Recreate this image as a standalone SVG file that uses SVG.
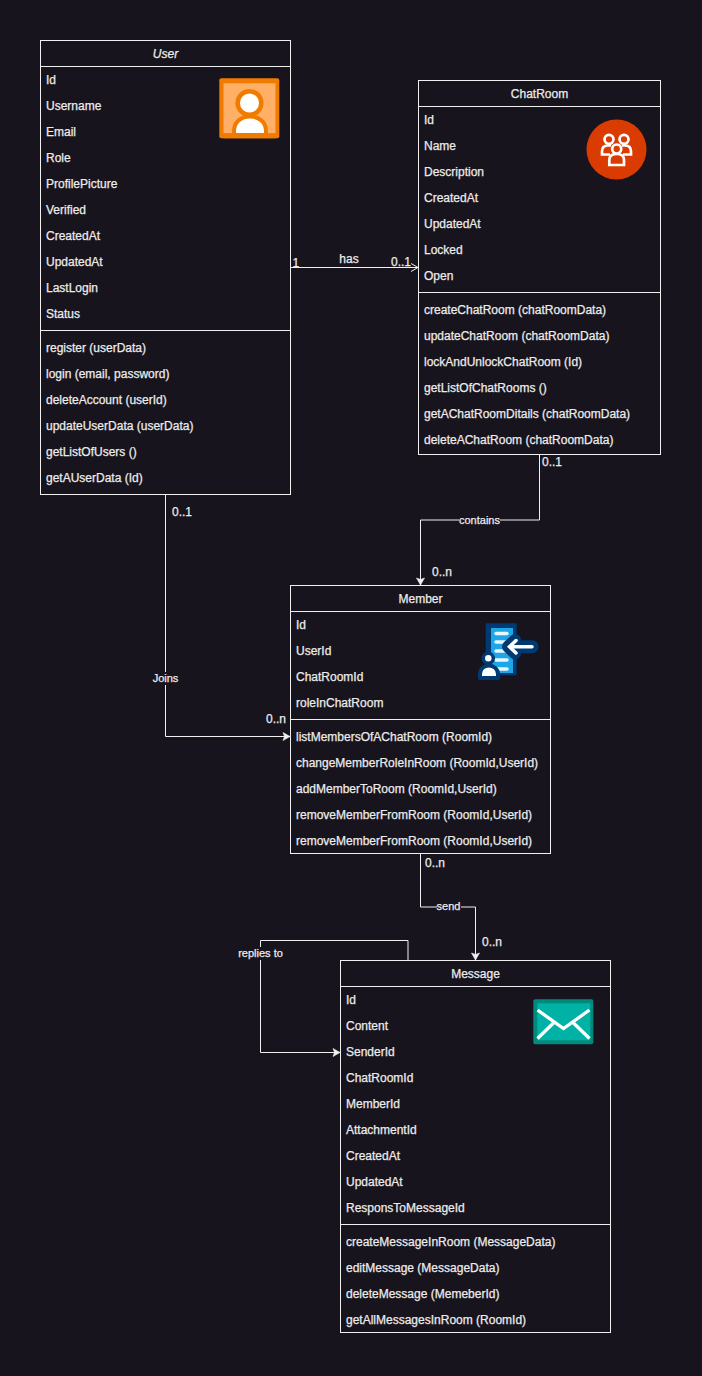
<svg xmlns="http://www.w3.org/2000/svg" width="702" height="1376" viewBox="0 0 702 1376">
<style>
text{font-family:"Liberation Sans",Arial,Helvetica,sans-serif;font-size:12px;fill:#ececec;stroke:#ececec;stroke-width:.25}
.box{fill:#18141d;stroke:#f0f0f0;stroke-width:1}
.sep{stroke:#f0f0f0;stroke-width:1;fill:none}
.t{text-anchor:middle}
.c{fill:none;stroke:#f0f0f0;stroke-width:1}
.s{font-size:11px;text-anchor:middle}
.lb{fill:#18141d}
</style>
<defs>
<marker id="open" markerWidth="10" markerHeight="10" refX="8" refY="5" orient="auto" markerUnits="userSpaceOnUse"><path d="M1 1 L8 5 L1 9" fill="none" stroke="#f0f0f0"/></marker>
<marker id="solid" markerWidth="10" markerHeight="10" refX="8" refY="5" orient="auto" markerUnits="userSpaceOnUse"><path d="M1 1 L8 5 L1 9 L2.500 5 Z" fill="#f0f0f0" stroke="#f0f0f0" stroke-width=".6"/></marker>
</defs>
<rect width="702" height="1376" fill="#18141d"/>
<g id="connectors">
<path class="c" d="M290.500 267.500H418" marker-end="url(#open)"/>
<path class="c" d="M539.500 454.500V520H420.500V585" marker-end="url(#solid)"/>
<path class="c" d="M165.500 494.500V736.500H290" marker-end="url(#solid)"/>
<path class="c" d="M420.500 853.500V907H475.500V960" marker-end="url(#solid)"/>
<path class="c" d="M408 960.500V940.500H260.500V1052.500H340" marker-end="url(#solid)"/>
<rect class="lb" x="459" y="514" width="41" height="12"/>
<rect class="lb" x="152" y="672" width="27" height="13"/>
<rect class="lb" x="437" y="900" width="24" height="13"/>
<rect class="lb" x="238" y="947" width="45" height="13"/>
<text x="292.500" y="267">1</text>
<text x="349" y="263" class="t">has</text>
<text x="391" y="266">0..1</text>
<text x="542" y="466">0..1</text>
<text x="479.500" y="524" class="s">contains</text>
<text x="432" y="576">0..n</text>
<text x="172" y="516">0..1</text>
<text x="165.500" y="682" class="s">Joins</text>
<text x="266" y="723">0..n</text>
<text x="425" y="867">0..n</text>
<text x="448.500" y="910" class="s">send</text>
<text x="482" y="946">0..n</text>
<text x="260.500" y="957" class="s">replies to</text>
</g>
<g id="user">
<rect class="box" x="40.500" y="40.500" width="250" height="454"/>
<path class="sep" d="M40.500 66.500H290.500M40.500 330.500H290.500"/>
<text x="165.500" y="58" class="t" font-style="italic">User</text>
<text x="46" y="84">Id</text><text x="46" y="110">Username</text><text x="46" y="136">Email</text><text x="46" y="162">Role</text><text x="46" y="188">ProfilePicture</text><text x="46" y="214">Verified</text><text x="46" y="240">CreatedAt</text><text x="46" y="266">UpdatedAt</text><text x="46" y="292">LastLogin</text><text x="46" y="318">Status</text>
<text x="46" y="352">register (userData)</text><text x="46" y="378">login (email, password)</text><text x="46" y="404">deleteAccount (userId)</text><text x="46" y="430">updateUserData (userData)</text><text x="46" y="456">getListOfUsers ()</text><text x="46" y="482">getAUserData (Id)</text>
<g id="user-icon">
<rect x="219.300" y="78.300" width="60" height="60" rx="2" fill="#ef7b00"/>
<rect x="223.500" y="83.300" width="52" height="50" fill="#ffb066"/>
<path d="M234 135V131C234 122 241 116.500 250 116.500C259 116.500 266 122 266 131V135Z" fill="#fff" stroke="#ef7b00" stroke-width="4"/>
<circle cx="249.500" cy="103" r="11.800" fill="#fff" stroke="#ef7b00" stroke-width="4.500"/>
<rect x="223.500" y="133.300" width="52" height="5" fill="#ef7b00"/>
</g>
</g>
<g id="chatroom">
<rect class="box" x="418.500" y="80.500" width="242" height="374"/>
<path class="sep" d="M418.500 106.500H660.500M418.500 292.500H660.500"/>
<text x="539.500" y="98" class="t">ChatRoom</text>
<text x="424" y="124">Id</text><text x="424" y="150">Name</text><text x="424" y="176">Description</text><text x="424" y="202">CreatedAt</text><text x="424" y="228">UpdatedAt</text><text x="424" y="254">Locked</text><text x="424" y="280">Open</text>
<text x="424" y="314">createChatRoom (chatRoomData)</text><text x="424" y="340">updateChatRoom (chatRoomData)</text><text x="424" y="366">lockAndUnlockChatRoom (Id)</text><text x="424" y="392">getListOfChatRooms ()</text><text x="424" y="418">getAChatRoomDitails (chatRoomData)</text><text x="424" y="444">deleteAChatRoom (chatRoomData)</text>
<g id="chatroom-icon">
<circle cx="616.500" cy="149.500" r="30" fill="#da3b01"/>
<g fill="none" stroke="#fff" stroke-width="2.700">
<circle cx="609" cy="139.300" r="4.500"/><circle cx="624" cy="139.300" r="4.500"/>
<path d="M610 154.500H602V151.500C602 147.500 604.500 145.500 608 145.500H611M622 145.500H625C628.500 145.500 631 147.500 631 151.500V154.500H623"/>
<circle cx="616.700" cy="149" r="4.500"/>
<path d="M609.300 165V160C609.300 156 612 154 616.700 154C621.300 154 624 156 624 160V165Z"/>
</g>
</g>
</g>
<g id="member">
<rect class="box" x="290.500" y="585.500" width="260" height="268"/>
<path class="sep" d="M290.500 611.500H550.500M290.500 719.500H550.500"/>
<text x="420.500" y="603" class="t">Member</text>
<text x="296" y="629">Id</text><text x="296" y="655">UserId</text><text x="296" y="681">ChatRoomId</text><text x="296" y="707">roleInChatRoom</text>
<text x="296" y="741">listMembersOfAChatRoom (RoomId)</text><text x="296" y="767">changeMemberRoleInRoom (RoomId,UserId)</text><text x="296" y="793">addMemberToRoom (RoomId,UserId)</text><text x="296" y="819">removeMemberFromRoom (RoomId,UserId)</text><text x="296" y="845">removeMemberFromRoom (RoomId,UserId)</text>
<g id="member-icon">
<rect x="485.700" y="623.300" width="31" height="52" rx="1" fill="#003a70"/>
<rect x="491" y="628" width="22" height="45" fill="#1ea7e8"/>
<path d="M496 633.500H507M496 642H507M496 651H507M496 660H507M496 669H507" stroke="#e8f6fd" stroke-width="3.500" stroke-linecap="round" fill="none"/>
<path d="M532 646.700H514" stroke="#003a70" stroke-width="13" stroke-linecap="round" fill="none"/>
<path d="M515 640L508 646.700L515 653.500" stroke="#003a70" stroke-width="12" stroke-linecap="round" stroke-linejoin="round" fill="none"/>
<path d="M532 646.700H511M516 640.500L509.500 646.700L516 653" fill="none" stroke="#fff" stroke-width="3.500" stroke-linecap="round"/>
<circle cx="488.300" cy="658.300" r="5" fill="#fff" stroke="#003a70" stroke-width="3.500"/>
<path d="M480 678V674C480 669 484 665.500 488.800 665.500C493.600 665.500 498 669 498 674V678Z" fill="#fff" stroke="#003a70" stroke-width="4" stroke-linejoin="round"/>
</g>
</g>
<g id="message">
<rect class="box" x="340.500" y="960.500" width="270" height="372"/>
<path class="sep" d="M340.500 986.500H610.500M340.500 1224.500H610.500"/>
<text x="475.500" y="978" class="t">Message</text>
<text x="346" y="1004">Id</text><text x="346" y="1030">Content</text><text x="346" y="1056">SenderId</text><text x="346" y="1082">ChatRoomId</text><text x="346" y="1108">MemberId</text><text x="346" y="1134">AttachmentId</text><text x="346" y="1160">CreatedAt</text><text x="346" y="1186">UpdatedAt</text><text x="346" y="1212">ResponsToMessageId</text>
<text x="346" y="1246">createMessageInRoom (MessageData)</text><text x="346" y="1272">editMessage (MessageData)</text><text x="346" y="1298">deleteMessage (MemeberId)</text><text x="346" y="1324">getAllMessagesInRoom (RoomId)</text>
<g id="message-icon">
<rect x="533.300" y="999.300" width="60" height="45" rx="2" fill="#008a7e"/>
<rect x="537.300" y="1003.300" width="53" height="37" fill="#00b2a6"/>
<path d="M537.500 1010L563.500 1028.500L589.500 1010M537.500 1038.500L553.500 1023M589.500 1038.500L573.500 1023" fill="none" stroke="#fff" stroke-width="3.300"/>
</g>
</g>
</svg>
